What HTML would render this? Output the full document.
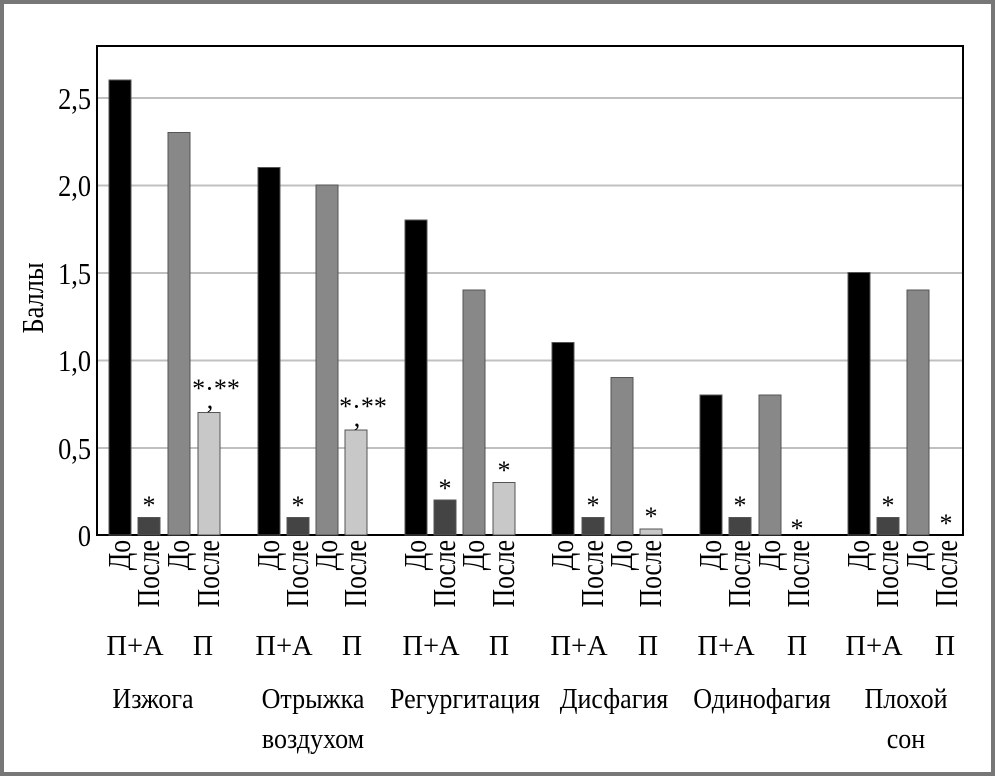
<!DOCTYPE html>
<html><head><meta charset="utf-8"><style>
html,body{margin:0;padding:0;background:#fff}
svg{display:block}
text{font-family:"Liberation Serif",serif;fill:#000}
</style></head><body>
<svg width="995" height="776" xmlns="http://www.w3.org/2000/svg">
<rect x="2" y="2" width="991" height="772" fill="#fff" stroke="#777" stroke-width="4"/>
<g stroke="#c0c0c0" stroke-width="2">
<line x1="97" y1="98" x2="963" y2="98"/>
<line x1="97" y1="185.5" x2="963" y2="185.5"/>
<line x1="97" y1="273" x2="963" y2="273"/>
<line x1="97" y1="360.5" x2="963" y2="360.5"/>
<line x1="97" y1="448" x2="963" y2="448"/>
</g>
<rect x="97" y="46" width="866" height="489" fill="none" stroke="#000" stroke-width="2"/>
<g font-size="31" text-anchor="end">
<text transform="translate(91,109) scale(0.85,1)">2,5</text>
<text transform="translate(91,196) scale(0.85,1)">2,0</text>
<text transform="translate(91,284) scale(0.85,1)">1,5</text>
<text transform="translate(91,371) scale(0.85,1)">1,0</text>
<text transform="translate(91,459) scale(0.85,1)">0,5</text>
<text transform="translate(91,546) scale(0.85,1)">0</text>
</g>
<text transform="translate(43,298) rotate(-90) scale(0.85,1)" font-size="31" text-anchor="middle">Баллы</text>
<g stroke="#555" stroke-width="1">
<rect x="109" y="80" width="22" height="455" fill="#000"/>
<rect x="138" y="517.5" width="22" height="17.5" fill="#444"/>
<rect x="168" y="132.5" width="22" height="402.5" fill="#888"/>
<rect x="198" y="412.5" width="22" height="122.5" fill="#c8c8c8"/>
<rect x="258" y="167.5" width="22" height="367.5" fill="#000"/>
<rect x="287" y="517.5" width="22" height="17.5" fill="#444"/>
<rect x="316" y="185" width="22" height="350" fill="#888"/>
<rect x="345" y="430" width="22" height="105" fill="#c8c8c8"/>
<rect x="405" y="220" width="22" height="315" fill="#000"/>
<rect x="434" y="500" width="22" height="35" fill="#444"/>
<rect x="463" y="290" width="22" height="245" fill="#888"/>
<rect x="493" y="482.5" width="22" height="52.5" fill="#c8c8c8"/>
<rect x="552" y="342.5" width="22" height="192.5" fill="#000"/>
<rect x="582" y="517.5" width="22" height="17.5" fill="#444"/>
<rect x="611" y="377.5" width="22" height="157.5" fill="#888"/>
<rect x="640" y="529" width="22" height="6" fill="#c8c8c8"/>
<rect x="700" y="395" width="22" height="140" fill="#000"/>
<rect x="729" y="517.5" width="22" height="17.5" fill="#444"/>
<rect x="759" y="395" width="22" height="140" fill="#888"/>
<rect x="848" y="272.5" width="22" height="262.5" fill="#000"/>
<rect x="877" y="517.5" width="22" height="17.5" fill="#444"/>
<rect x="907" y="290" width="22" height="245" fill="#888"/>
</g>
<g font-size="26" text-anchor="middle">
<text x="149" y="514">*</text><text x="298" y="514">*</text><text x="445" y="497">*</text>
<text x="504" y="479">*</text><text x="593" y="514">*</text><text x="651" y="525">*</text>
<text x="740" y="514">*</text><text x="797" y="537">*</text><text x="888" y="514">*</text><text x="946" y="532">*</text>
<text x="216" y="397">*·**</text><text x="210" y="408">,</text>
<text x="363" y="415">*·**</text><text x="357" y="426">,</text>
</g>
<g font-size="32" text-anchor="end">
<text transform="translate(130,540) rotate(-90) scale(0.8,1)">До</text>
<text transform="translate(159,540) rotate(-90) scale(0.8,1)">После</text>
<text transform="translate(189,540) rotate(-90) scale(0.8,1)">До</text>
<text transform="translate(219,540) rotate(-90) scale(0.8,1)">После</text>
<text transform="translate(279,540) rotate(-90) scale(0.8,1)">До</text>
<text transform="translate(308,540) rotate(-90) scale(0.8,1)">После</text>
<text transform="translate(337,540) rotate(-90) scale(0.8,1)">До</text>
<text transform="translate(366,540) rotate(-90) scale(0.8,1)">После</text>
<text transform="translate(426,540) rotate(-90) scale(0.8,1)">До</text>
<text transform="translate(455,540) rotate(-90) scale(0.8,1)">После</text>
<text transform="translate(484,540) rotate(-90) scale(0.8,1)">До</text>
<text transform="translate(514,540) rotate(-90) scale(0.8,1)">После</text>
<text transform="translate(573,540) rotate(-90) scale(0.8,1)">До</text>
<text transform="translate(603,540) rotate(-90) scale(0.8,1)">После</text>
<text transform="translate(632,540) rotate(-90) scale(0.8,1)">До</text>
<text transform="translate(661,540) rotate(-90) scale(0.8,1)">После</text>
<text transform="translate(721,540) rotate(-90) scale(0.8,1)">До</text>
<text transform="translate(750,540) rotate(-90) scale(0.8,1)">После</text>
<text transform="translate(780,540) rotate(-90) scale(0.8,1)">До</text>
<text transform="translate(809,540) rotate(-90) scale(0.8,1)">После</text>
<text transform="translate(869,540) rotate(-90) scale(0.8,1)">До</text>
<text transform="translate(898,540) rotate(-90) scale(0.8,1)">После</text>
<text transform="translate(928,540) rotate(-90) scale(0.8,1)">До</text>
<text transform="translate(957,540) rotate(-90) scale(0.8,1)">После</text>
</g>
<g font-size="28" text-anchor="middle">
<text transform="translate(135,655) scale(1.02,1)">П+А</text><text transform="translate(203,655)">П</text>
<text transform="translate(284,655) scale(1.02,1)">П+А</text><text transform="translate(352,655)">П</text>
<text transform="translate(431,655) scale(1.02,1)">П+А</text><text transform="translate(499,655)">П</text>
<text transform="translate(579,655) scale(1.02,1)">П+А</text><text transform="translate(648,655)">П</text>
<text transform="translate(726,655) scale(1.02,1)">П+А</text><text transform="translate(797,655)">П</text>
<text transform="translate(874,655) scale(1.02,1)">П+А</text><text transform="translate(945,655)">П</text>
<text transform="translate(153,708) scale(0.93,1)">Изжога</text>
<text transform="translate(313,708) scale(0.93,1)">Отрыжка</text>
<text transform="translate(313,748) scale(0.93,1)">воздухом</text>
<text transform="translate(465,708) scale(0.93,1)">Регургитация</text>
<text transform="translate(614,708) scale(0.93,1)">Дисфагия</text>
<text transform="translate(762,708) scale(0.93,1)">Одинофагия</text>
<text transform="translate(906,708) scale(0.93,1)">Плохой</text>
<text transform="translate(906,748) scale(0.93,1)">сон</text>
</g>
</svg>
</body></html>
